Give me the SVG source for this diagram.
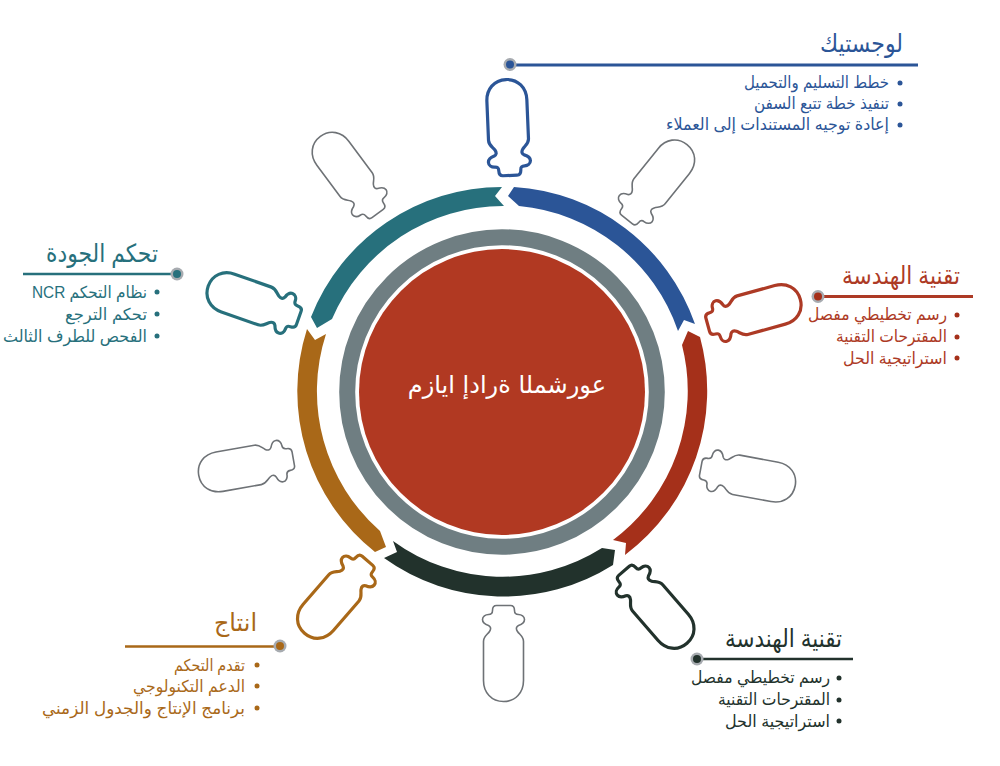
<svg xmlns="http://www.w3.org/2000/svg" width="1000" height="766" viewBox="0 0 1000 766">
<style>
text{font-family:"Liberation Sans","DejaVu Sans",sans-serif;direction:rtl;text-anchor:start}
.t{font-size:25px}.l{font-size:16.5px}
.halo{fill:#a7abb0}
.gb{fill:none;stroke:#6e7276;stroke-width:1.6}
.b{fill:none;stroke-width:3.2;stroke-linejoin:round}
.blue{fill:#2b5597}.red{fill:#a5301a}.dark{fill:#22322c}.orange{fill:#a96818}.teal{fill:#27707c}
.lblue{stroke:#2b5597;stroke-width:3}.lred{stroke:#ad3a25;stroke-width:3}.ldark{stroke:#22322c;stroke-width:2.5}.lorange{stroke:#a96818;stroke-width:2.5}.lteal{stroke:#27707c;stroke-width:2.5}
</style>
<defs>
<path id="bottle" d="M0,-48C12,-48 20,-39 20,-27L20,12C20,17 16,19 14,22C12,25 13,27 15,28C18,29 21,31 21,34C21,37 18,39 15,39C12,39 11,40 11,43C11,46 10,48 7,48L-7,48C-10,48 -11,46 -11,43C-11,40 -12,39 -15,39C-18,39 -21,37 -21,34C-21,31 -18,29 -15,28C-13,27 -12,25 -14,22C-16,19 -20,17 -20,12L-20,-27C-20,-39 -12,-48 0,-48Z"/>
</defs>
<g id="connectors">
<path class="blue" d="M508,196L514,187A205,205 0 0 1 695,324L684,320L678,331A186,186 0 0 0 519,206Z"/>
<path class="red" d="M688,331L700,337A205,205 0 0 1 625,555L626,543L613,540A186,186 0 0 0 682,345Z"/>
<path class="dark" d="M615,550L613,565A205,205 0 0 1 384,558L397,552L393,541A186,186 0 0 0 602,548Z"/>
<path class="orange" d="M386,547L375,552A205,205 0 0 1 307,329L315,340L326,334A186,186 0 0 0 380,531Z"/>
<path class="teal" d="M317,328L311,317A205,205 0 0 1 502,187L495,196L504,206A186,186 0 0 0 332,319Z"/>
</g>
<g id="center">
<circle cx="502" cy="392" r="154.8" fill="none" stroke="#6f7e82" stroke-width="16"/>
<circle cx="502" cy="392" r="143" fill="#b13922"/>
<text x="606" y="393" font-size="24" fill="#fff" style="font-family:'DejaVu Sans',sans-serif">عورشمل<tspan font-size="24.1">ا</tspan> ةرادإ ايازم</text>
</g>
<g id="bottle-gray-1"><use href="#bottle" class="gb" transform="translate(657,182) rotate(38.7)"/></g>
<g id="bottle-gray-2"><use href="#bottle" class="gb" transform="translate(748,477) rotate(100.5)"/></g>
<g id="bottle-gray-3"><use href="#bottle" class="gb" transform="translate(503.5,653.5) rotate(180)"/></g>
<g id="bottle-gray-4"><use href="#bottle" class="gb" transform="translate(246,467) rotate(260)"/></g>
<g id="bottle-gray-5"><use href="#bottle" class="gb" transform="translate(349,175) rotate(323.4)"/></g>
<g id="node-logistics">
<use href="#bottle" class="b" stroke="#2b5597" transform="translate(508,127.5) rotate(-2.4)"/>
<line class="lblue" x1="510" y1="65" x2="918" y2="65"/>
<circle class="halo" cx="510" cy="64.5" r="6.5"/><circle class="blue" cx="510" cy="64.5" r="4"/>
<text class="t" x="903" y="52" fill="#2b5597" textLength="83" lengthAdjust="spacingAndGlyphs">لوجستيك</text>
<circle class="blue" cx="900" cy="83" r="2.5"/><circle class="blue" cx="900" cy="104" r="2.5"/><circle class="blue" cx="900" cy="125" r="2.5"/>
<text class="l" x="889" y="88" fill="#2b5597" textLength="145" lengthAdjust="spacingAndGlyphs">خطط التسليم والتحميل</text>
<text class="l" x="889" y="109" fill="#2b5597" textLength="135" lengthAdjust="spacingAndGlyphs">تنفيذ خطة تتبع السفن</text>
<text class="l" x="889" y="130" fill="#2b5597" textLength="223" lengthAdjust="spacingAndGlyphs">إعادة توجيه المستندات إلى العملاء</text>
</g>
<g id="node-engineering-1">
<use href="#bottle" class="b" stroke="#ad3a25" transform="translate(754,312) rotate(74.6)"/>
<line class="lred" x1="818" y1="296.5" x2="973" y2="296.5"/>
<circle class="halo" cx="818" cy="296.5" r="6.5"/><circle class="red" cx="818" cy="296.5" r="4"/>
<text class="t" x="960" y="284" fill="#ad3a25" textLength="118" lengthAdjust="spacingAndGlyphs">تقنية الهندسة</text>
<circle class="red" cx="957" cy="315" r="2.5"/><circle class="red" cx="957" cy="337" r="2.5"/><circle class="red" cx="957" cy="358" r="2.5"/>
<text class="l" x="947" y="320" fill="#ad3a25" textLength="139" lengthAdjust="spacingAndGlyphs">رسم تخطيطي مفصل</text>
<text class="l" x="947" y="342" fill="#ad3a25" textLength="111" lengthAdjust="spacingAndGlyphs">المقترحات التقنية</text>
<text class="l" x="947" y="364" fill="#ad3a25" textLength="104" lengthAdjust="spacingAndGlyphs">استراتيجية الحل</text>
</g>
<g id="node-engineering-2">
<use href="#bottle" class="b" stroke="#22322c" transform="translate(655.5,607) rotate(139)"/>
<line class="ldark" x1="697" y1="659" x2="853" y2="659"/>
<circle class="halo" cx="697" cy="659" r="6.5"/><circle class="dark" cx="697" cy="659" r="4"/>
<text class="t" x="842" y="647" fill="#22322c" textLength="117" lengthAdjust="spacingAndGlyphs">تقنية الهندسة</text>
<circle class="dark" cx="839" cy="678" r="2.5"/><circle class="dark" cx="839" cy="700" r="2.5"/><circle class="dark" cx="839" cy="721" r="2.5"/>
<text class="l" x="830" y="683" fill="#22322c" textLength="139" lengthAdjust="spacingAndGlyphs">رسم تخطيطي مفصل</text>
<text class="l" x="830" y="705" fill="#22322c" textLength="112" lengthAdjust="spacingAndGlyphs">المقترحات التقنية</text>
<text class="l" x="830" y="727" fill="#22322c" textLength="105" lengthAdjust="spacingAndGlyphs">استراتيجية الحل</text>
</g>
<g id="node-production">
<use href="#bottle" class="b" stroke="#a96818" transform="translate(336,597) rotate(221)"/>
<line class="lorange" x1="125" y1="646.5" x2="280" y2="646.5"/>
<circle class="halo" cx="280" cy="646" r="6.5"/><circle class="orange" cx="280" cy="646" r="4"/>
<text class="t" x="257" y="631" fill="#a96818" textLength="43" lengthAdjust="spacingAndGlyphs">انتاج</text>
<circle class="orange" cx="257" cy="665" r="2.5"/><circle class="orange" cx="257" cy="686" r="2.5"/><circle class="orange" cx="257" cy="708" r="2.5"/>
<text class="l" x="245" y="671" fill="#a96818" textLength="71" lengthAdjust="spacingAndGlyphs">تقدم التحكم</text>
<text class="l" x="245" y="692" fill="#a96818" textLength="112" lengthAdjust="spacingAndGlyphs">الدعم التكنولوجي</text>
<text class="l" x="245" y="714" fill="#a96818" textLength="203" lengthAdjust="spacingAndGlyphs">برنامج الإنتاج والجدول الزمني</text>
</g>
<g id="node-quality">
<use href="#bottle" class="b" stroke="#27707c" transform="translate(253.5,302) rotate(289.4)"/>
<line class="lteal" x1="23" y1="274" x2="177" y2="274"/>
<circle class="halo" cx="177" cy="274" r="6.5"/><circle class="teal" cx="177" cy="274" r="4"/>
<text class="t" x="158" y="262" fill="#27707c" textLength="112" lengthAdjust="spacingAndGlyphs">تحكم الجودة</text>
<circle class="teal" cx="157" cy="292" r="2.5"/><circle class="teal" cx="157" cy="314" r="2.5"/><circle class="teal" cx="157" cy="336" r="2.5"/>
<text class="l" x="147" y="298" fill="#27707c" textLength="115" lengthAdjust="spacingAndGlyphs">نظام التحكم NCR</text>
<text class="l" x="147" y="320" fill="#27707c" textLength="82" lengthAdjust="spacingAndGlyphs">تحكم الترجع</text>
<text class="l" x="147" y="342" fill="#27707c" textLength="144" lengthAdjust="spacingAndGlyphs">الفحص للطرف الثالث</text>
</g>
</svg>
